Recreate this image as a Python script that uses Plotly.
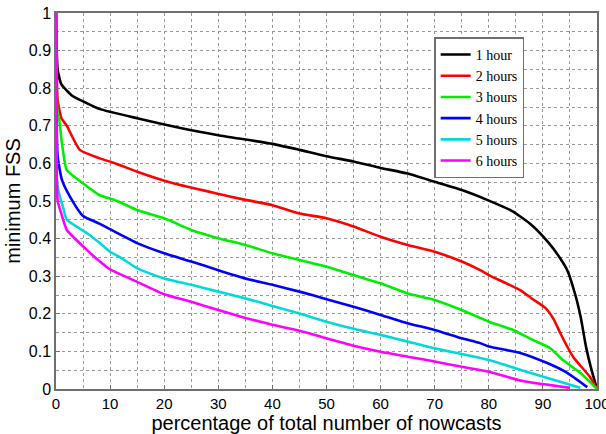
import plotly.graph_objects as go

series_names = ["1 hour", "2 hours", "3 hours", "4 hours", "5 hours", "6 hours"]
series_colors = ["#000000", "#ff0000", "#00ee00", "#0000ff", "#00dada", "#ff00ff"]

x_1h = [0, 0.3, 1, 3, 5, 8, 15, 23, 30, 40, 45, 50, 55, 60, 65, 70, 75, 80, 84.5, 88, 91, 93, 94.5, 96, 97, 98, 99, 100]
y_1h = [1, 0.85, 0.81, 0.78, 0.765, 0.745, 0.72, 0.694, 0.675, 0.652, 0.636, 0.619, 0.605, 0.588, 0.573, 0.551, 0.529, 0.501, 0.472, 0.435, 0.39, 0.352, 0.316, 0.25, 0.19, 0.11, 0.05, 0.0]

x_2h = [0, 0.3, 1, 2, 4.4, 8, 11, 15, 21.7, 29.7, 35, 40, 45, 50, 55, 60, 65, 70, 75, 78.4, 80, 85.8, 88, 90.5, 92, 93.2, 95.6, 98.7, 100]
y_2h = [1, 0.77, 0.72, 0.70, 0.636, 0.614, 0.60, 0.578, 0.547, 0.52, 0.503, 0.489, 0.467, 0.454, 0.432, 0.405, 0.383, 0.365, 0.339, 0.316, 0.303, 0.263, 0.24, 0.215, 0.185, 0.149, 0.085, 0.032, 0.0]

x_3h = [0, 0.3, 0.6, 1.1, 2, 5, 8, 11.3, 15, 20, 25, 30, 35, 40, 45, 50, 55, 60, 65, 70, 75, 78.4, 80, 84.5, 88.2, 91.3, 93.7, 96.9, 100]
y_3h = [1, 0.73, 0.715, 0.654, 0.582, 0.547, 0.516, 0.50, 0.476, 0.454, 0.423, 0.401, 0.383, 0.361, 0.343, 0.325, 0.303, 0.281, 0.254, 0.237, 0.21, 0.189, 0.179, 0.157, 0.13, 0.109, 0.077, 0.043, 0.0]

x_4h = [0, 0.3, 1.1, 2.6, 5, 8, 10, 12, 15, 20, 25, 30, 35, 40, 45, 50, 55, 60, 65, 70, 75, 78.4, 80, 85.8, 90.8, 94.5, 98.2]
y_4h = [1, 0.62, 0.556, 0.511, 0.46, 0.44, 0.425, 0.41, 0.388, 0.361, 0.339, 0.316, 0.294, 0.277, 0.259, 0.239, 0.219, 0.197, 0.175, 0.157, 0.135, 0.122, 0.113, 0.096, 0.069, 0.043, 0.005]

x_5h = [0, 0.2, 0.7, 1.3, 2, 5.7, 8.1, 10, 11.8, 15, 20, 25, 30, 35, 40, 45, 50, 55, 60, 65, 70, 75, 80, 87.6, 93.2, 96.9]
y_5h = [1, 0.55, 0.511, 0.484, 0.45, 0.415, 0.388, 0.365, 0.351, 0.321, 0.294, 0.277, 0.259, 0.241, 0.221, 0.201, 0.179, 0.160, 0.144, 0.126, 0.108, 0.093, 0.077, 0.043, 0.019, 0.003]

x_6h = [0, 0.3, 0.7, 2, 5.7, 8.1, 10, 15, 20, 25, 30, 35, 40, 45, 50, 55, 60, 65, 70, 75, 80, 86.3, 95]
y_6h = [1, 0.5, 0.48, 0.423, 0.37, 0.339, 0.318, 0.285, 0.252, 0.232, 0.21, 0.189, 0.171, 0.155, 0.135, 0.115, 0.099, 0.086, 0.073, 0.059, 0.046, 0.021, 0.003]

xs = [x_1h, x_2h, x_3h, x_4h, x_5h, x_6h]
ys = [y_1h, y_2h, y_3h, y_4h, y_5h, y_6h]

fig = go.Figure()
for name, color, x, y in zip(series_names, series_colors, xs, ys):
    fig.add_trace(go.Scatter(x=x, y=y, mode="lines", name=name,
                             line=dict(color=color, width=2.6, shape="spline", smoothing=0.5)))

axis_common = dict(
    showline=True, linecolor="#707070", linewidth=1.5, mirror=True,
    showgrid=True, gridcolor="#999999", griddash="dot", gridwidth=1,
    zeroline=False, ticks="inside", ticklen=4, tickcolor="#707070",
    ticklabeloverflow="allow", automargin=False,
)

fig.update_xaxes(
    range=[0, 100], dtick=10, tick0=0,
    minor=dict(dtick=5, showgrid=True, gridcolor="#999999", griddash="dot", gridwidth=1),
    tickfont=dict(family="Liberation Sans, Arial", size=15, color="#000000"),
    title=dict(text="percentage of total number of nowcasts",
               font=dict(family="Liberation Sans, Arial", size=20, color="#000000"), standoff=2),
    **axis_common,
)
fig.update_yaxes(
    range=[0, 1], dtick=0.1, tick0=0,
    minor=dict(dtick=0.05, showgrid=True, gridcolor="#999999", griddash="dot", gridwidth=1),
    tickfont=dict(family="Liberation Sans, Arial", size=16, color="#000000"),
    title=dict(text="minimum FSS",
               font=dict(family="Liberation Sans, Arial", size=20, color="#000000"), standoff=3),
    **axis_common,
)

fig.update_layout(
    width=606, height=434,
    margin=dict(l=56, r=9, t=13, b=45, autoexpand=False),
    plot_bgcolor="white", paper_bgcolor="white",
    legend=dict(x=0.699, y=0.935, xanchor="left", yanchor="top",
                bgcolor="white", bordercolor="#707070", borderwidth=1.5,
                font=dict(family="Liberation Serif, Times New Roman", size=14, color="#000000"),
                tracegroupgap=0, itemwidth=30),
    showlegend=True,
)

fig.write_html("out.html")
